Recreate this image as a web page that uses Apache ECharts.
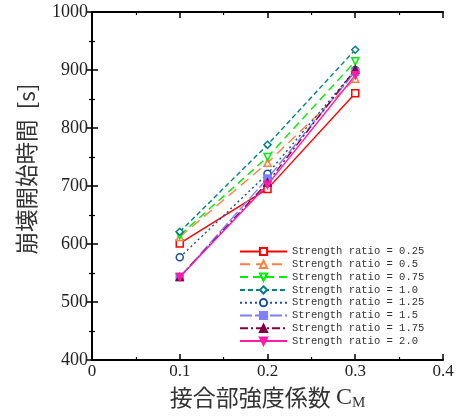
<!DOCTYPE html>
<html>
<head>
<meta charset="utf-8">
<script src="https://cdn.jsdelivr.net/npm/echarts@6/dist/echarts.min.js"></script>
<style>
html,body{margin:0;padding:0;background:#fff;}
#main{width:461px;height:416px;}
</style>
</head>
<body>
<div id="main"></div>
<script>
// 接合部強度係数
var cmList = [0.1, 0.2, 0.3];
var ratioNames = ['Strength ratio = 0.25','Strength ratio = 0.5','Strength ratio = 0.75','Strength ratio = 1.0',
  'Strength ratio = 1.25','Strength ratio = 1.5','Strength ratio = 1.75','Strength ratio = 2.0'];
var r025 = [601, 695, 860];
var r05 = [612, 740, 885];
var r075 = [615, 750, 915];
var r10 = [621, 771, 935];
var r125 = [577, 721, 900];
var r15 = [543, 713, 897];
var r175 = [543, 706, 901];
var r20 = [543, 702, 891];

function pts(arr){
  var out=[];
  for(var i=0;i<arr.length;i++){ out.push([cmList[i],arr[i]]); }
  return out;
}
function mk(name,data,color,type,symbol,filled,rot){
  return {
    name:name,
    type:'line',
    data:pts(data),
    symbol:symbol,
    symbolSize:7,
    symbolRotate:rot||0,
    lineStyle:{color:color,width:1.4,type:type},
    itemStyle:{color:filled?color:'#fff',borderColor:color,borderWidth:1.5},
    emphasis:{disabled:true},
    z:3
  };
}
var myChart = echarts.init(document.getElementById('main'));
var tickIn = {inside:true,length:6,lineStyle:{color:'#000',width:1.5}};
var minorIn = {show:true,splitNumber:2,length:3,lineStyle:{color:'#000',width:1.2}};
var option = {
  animation:false,
  backgroundColor:'#fff',
  grid:{left:92,right:18,top:12,bottom:54},
  legend:{
    orient:'vertical',
    left:234, top:241,
    itemWidth:47, itemHeight:9, itemGap:1.8,
    textStyle:{fontFamily:'Liberation Mono',fontSize:10.5,color:'#333'},
    data:ratioNames
  },
  xAxis:[{
    type:'value',min:0,max:0.4,interval:0.1,
    axisLine:{lineStyle:{color:'#000',width:2}},
    axisTick:tickIn,minorTick:minorIn,splitLine:{show:false},
    axisLabel:{color:'#222',fontFamily:'Liberation Serif',fontSize:17,margin:3,
      formatter:function(v){return v===0?'0':v.toFixed(1);}},
    name:'{a|接合部強度係数 }{c|C}{s|M}',
    nameLocation:'middle',nameGap:24,
    nameTextStyle:{rich:{
      a:{fontFamily:'Noto Sans CJK JP',fontSize:23,color:'#333'},
      c:{fontFamily:'Liberation Serif',fontSize:24,color:'#333'},
      s:{fontFamily:'Liberation Serif',fontSize:15,color:'#333',padding:[12,0,0,0]}
    }}
  },{
    type:'value',min:0,max:0.4,interval:0.1,position:'top',
    axisLine:{lineStyle:{color:'#000',width:2}},
    axisTick:tickIn,minorTick:minorIn,axisLabel:{show:false},splitLine:{show:false}
  }],
  yAxis:[{
    type:'value',min:400,max:1000,interval:100,
    axisLine:{lineStyle:{color:'#000',width:2}},
    axisTick:tickIn,minorTick:minorIn,splitLine:{show:false},
    axisLabel:{color:'#222',fontFamily:'Liberation Serif',fontSize:18,margin:4,
      formatter:function(v){return String(v);}},
    name:'崩壊開始時間  [s]',
    nameLocation:'middle',nameGap:54,
    nameTextStyle:{fontFamily:'Noto Sans CJK JP',fontSize:22.5,color:'#333',padding:[0,0,0,34]}
  },{
    type:'value',min:400,max:1000,interval:100,position:'right',
    axisLine:{lineStyle:{color:'#000',width:2}},
    axisTick:tickIn,minorTick:minorIn,axisLabel:{show:false},splitLine:{show:false}
  }],
  series:[
    mk(ratioNames[0],r025,'#ff0000','solid','rect',false),
    mk(ratioNames[1],r05,'#ff8040',[10,6],'triangle',false),
    mk(ratioNames[2],r075,'#00ee00',[8,5],'triangle',false,180),
    mk(ratioNames[3],r10,'#008080',[5,3],'diamond',false),
    mk(ratioNames[4],r125,'#1a4f9c',[2,3],'circle',false),
    mk(ratioNames[5],r15,'#7f7fff',[12,3],'rect',true),
    mk(ratioNames[6],r175,'#800040',[8,3,2,3],'triangle',true),
    mk(ratioNames[7],r20,'#ff1aa8','solid','triangle',true,180)
  ]
};
myChart.setOption(option);
</script>
</body>
</html>
